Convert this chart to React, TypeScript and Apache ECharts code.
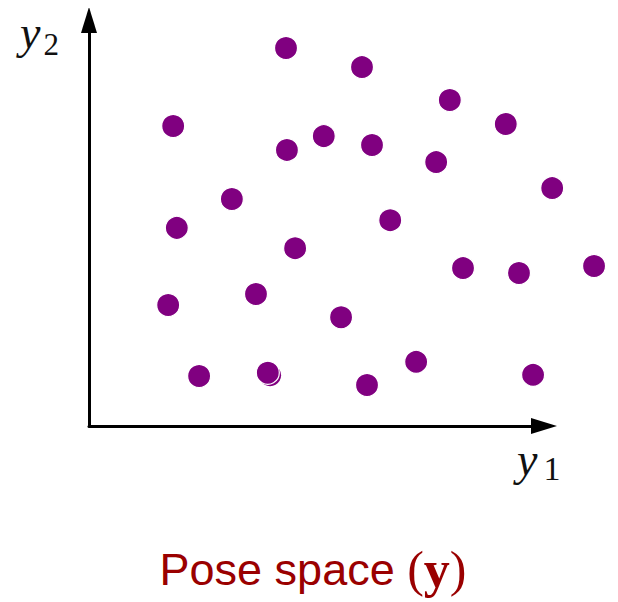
import React, { useEffect, useRef } from "react";
import * as echarts from "echarts";

// Pose-space samples (y1, y2), axis runs 0..100 on both dimensions
const y1Values = [43.3, 60.0, 79.3, 18.5, 91.6, 51.6, 43.5, 62.2, 76.3, 101.8, 31.4, 66.2, 19.3, 45.3, 82.2, 94.5, 111.0, 17.4, 36.7, 55.4, 71.9, 24.2, 39.3, 61.1, 97.6];
const y2Values = [93.1, 88.4, 80.3, 73.9, 74.4, 71.4, 68.0, 69.2, 65.0, 58.6, 55.9, 50.7, 48.8, 43.8, 38.9, 37.7, 39.4, 29.8, 32.5, 26.8, 15.8, 12.3, 13.1, 10.1, 12.6];
// faint ghost of one point (slightly offset duplicate)
const ghostY1 = [39.8];
const ghostY2 = [12.5];

const axisLabelX = ["y", "1"];
const axisLabelY = ["y", "2"];
const titleText = "Pose space ";
const titleSymbol = "y";

const PURPLE = "#800080";

export default function App() {
  const ref = useRef<HTMLDivElement>(null);

  useEffect(() => {
    if (!ref.current) return;
    const chart = echarts.init(ref.current, null, { renderer: "svg" });
    const points = y1Values.map((v, i) => [v, y2Values[i]]);
    const ghost = ghostY1.map((v, i) => [v, ghostY2[i]]);
    const axisLine = {
      show: true,
      symbol: ["none", "triangle"],
      symbolSize: [16, 26],
      lineStyle: { color: "#000", width: 3 },
    };
    chart.setOption({
      animation: false,
      backgroundColor: "#fff",
      grid: { left: 81, top: 12, width: 455, height: 406, containLabel: false },
      xAxis: {
        type: "value",
        min: 0,
        max: 100,
        axisLine,
        axisTick: { show: false },
        axisLabel: { show: false },
        splitLine: { show: false },
      },
      yAxis: {
        type: "value",
        min: 0,
        max: 100,
        axisLine,
        axisTick: { show: false },
        axisLabel: { show: false },
        splitLine: { show: false },
      },
      title: {
        text: `{a|${titleText}}{p|(}{b|${titleSymbol}}{p|)}`,
        left: "center",
        top: 530,
        textStyle: {
          fontWeight: "normal",
          rich: {
            a: { fontFamily: "Liberation Sans", fontSize: 45, fontWeight: "normal", color: "#9a0000" },
            p: { fontFamily: "Liberation Serif", fontSize: 50, fontWeight: "normal", color: "#9a0000" },
            b: { fontFamily: "Liberation Serif", fontSize: 52, fontWeight: "bold", color: "#9a0000" },
          },
        },
      },
      graphic: [
        {
          type: "text",
          left: 12,
          top: 1,
          style: {
            text: `{v|${axisLabelY[0]}}{s|${axisLabelY[1]}}`,
            rich: {
              v: { fontFamily: "Liberation Serif", fontStyle: "italic", fontSize: 46, lineHeight: 18, padding: [0, 0, 16, 0], fill: "#111" },
              s: { fontFamily: "Liberation Serif", fontSize: 31, lineHeight: 18, fill: "#111", padding: [12, 0, 4, 3] },
            },
          },
        },
        {
          type: "text",
          left: 509,
          top: 428,
          style: {
            text: `{v|${axisLabelX[0]}}{s|${axisLabelX[1]}}`,
            rich: {
              v: { fontFamily: "Liberation Serif", fontStyle: "italic", fontSize: 46, fill: "#111" },
              s: { fontFamily: "Liberation Serif", fontSize: 34, fill: "#111", padding: [18, 0, 0, 6] },
            },
          },
        },
      ],
      series: [
        {
          type: "scatter",
          data: ghost,
          symbolSize: 22,
          clip: false,
          itemStyle: { color: PURPLE, opacity: 1 },
          z: 1,
        },
        {
          type: "scatter",
          data: points,
          symbolSize: 23,
          clip: false,
          itemStyle: { color: PURPLE, opacity: 1, borderColor: "#fff", borderWidth: 1.2 },
          z: 3,
        },
      ],
    });
    return () => chart.dispose();
  }, []);

  return <div ref={ref} style={{ width: 610, height: 594 }} />;
}
